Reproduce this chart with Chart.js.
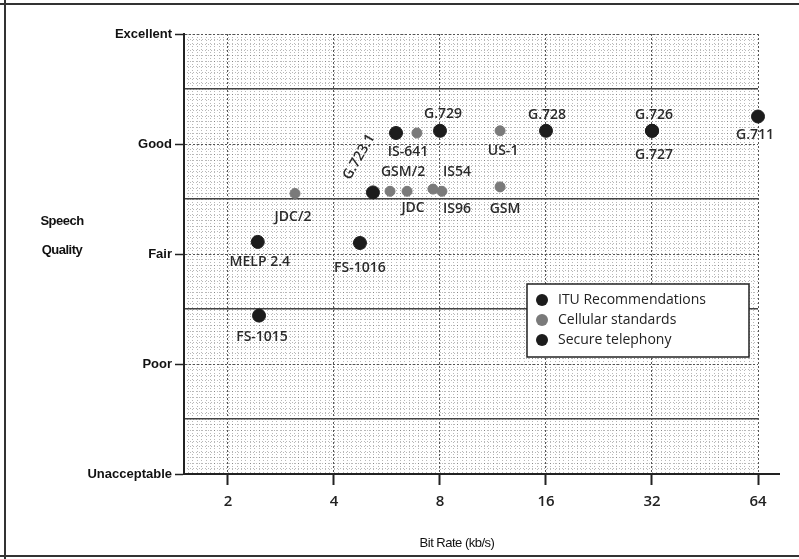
<!DOCTYPE html>
<html>
<head>
<meta charset="utf-8">
<script src="https://cdn.jsdelivr.net/npm/chart.js@4/dist/chart.umd.min.js"></script>
<style>
  html, body { margin: 0; padding: 0; background: #fff; }
  #wrap { width: 799px; height: 559px; position: relative; }
</style>
</head>
<body>
<div id="wrap"><canvas id="grafico"></canvas></div>
<script>
// ITU recommendations
const nomesITU = ['G.711', 'G.726', 'G.727', 'G.728', 'G.729', 'G.723.1', 'G.723.1'];
const taxaITU = [64, 32, 32, 16, 8, 6.0, 5.16];
const qualidadeITU = [3.25, 3.12, 3.12, 3.12, 3.12, 3.1, 2.56];

// cellular standards
const nomesCelular = ['IS-641', 'US-1', 'GSM', 'IS54', 'IS96', 'JDC', 'GSM/2', 'JDC/2'];
const taxaCelular = [6.88, 11.85, 11.85, 7.64, 8.1, 6.45, 5.77, 3.1];
const qualidadeCelular = [3.1, 3.12, 2.61, 2.59, 2.57, 2.57, 2.57, 2.55];

// secure telephony
const nomesSeguro = ['MELP 2.4', 'FS-1016', 'FS-1015'];
const taxaSeguro = [2.43, 4.74, 2.45];
const qualidadeSeguro = [2.11, 2.1, 1.44];

const ticksTaxa = [2, 4, 8, 16, 32, 64];
const rotulosQualidade = ['Unacceptable', 'Poor', 'Fair', 'Good', 'Excellent'];

// where each point label sits relative to its marker: [dx, dy, rotation in degrees]
const posRotulos = [
    [[-3, 19, 0], [2, -16, 0], [2, 24, 0], [1, -16, 0], [3, -17, 0], [-37, 24, -60], null],
    [[-9, 19, 0], [3, 20, 0], [5, 22, 0], [24, -17, 0], [15, 18, 0], [6, 17, 0], [13, -19, 0], [-2, 24, 0]],
    [[2, 20, 0], [0, 25, 0], [3, 21, 0]]
];

function pontos(taxas, qualidades) {
    return taxas.map((t, i) => ({ x: t, y: qualidades[i] }));
}

const fonteRotulo = '600 14px "Open Sans"';

const pluginRotulos = {
    id: 'rotulos',
    beforeDraw(chart) {
        const ctx = chart.ctx;
        ctx.save();
        ctx.strokeStyle = '#333';
        ctx.lineWidth = 2;
        ctx.beginPath();
        ctx.moveTo(0, 4); ctx.lineTo(799, 4);
        ctx.moveTo(5, 0); ctx.lineTo(5, 559);
        ctx.moveTo(0, 556); ctx.lineTo(799, 556);
        ctx.stroke();
        ctx.restore();
    },
    afterDraw(chart) {
        const ctx = chart.ctx;
        const area = chart.chartArea;
        ctx.save();

        // x axis line runs a little past the last tick
        ctx.strokeStyle = '#222';
        ctx.lineWidth = 2;
        ctx.beginPath();
        ctx.moveTo(area.right, area.bottom);
        ctx.lineTo(area.right + 22, area.bottom);
        ctx.stroke();

        // point labels
        ctx.fillStyle = '#2a2a2a';
        ctx.font = fonteRotulo;
        ctx.textAlign = 'center';
        ctx.textBaseline = 'middle';
        const nomes = [nomesITU, nomesCelular, nomesSeguro];
        chart.data.datasets.forEach((ds, d) => {
            const meta = chart.getDatasetMeta(d);
            meta.data.forEach((el, i) => {
                const p = posRotulos[d][i];
                if (!p) return;
                ctx.save();
                ctx.translate(el.x + p[0], el.y + p[1]);
                ctx.rotate(p[2] * Math.PI / 180);
                ctx.fillText(nomes[d][i], 0, 0);
                ctx.restore();
            });
        });

        // axis titles
        ctx.fillStyle = '#111';
        ctx.font = 'bold 13px "Liberation Sans"';
        ctx.letterSpacing = '-0.5px';
        ctx.fillText('Speech', 62, 221);
        ctx.fillText('Quality', 62, 250);
        ctx.font = '13px "Liberation Sans"';
        ctx.fillText('Bit Rate (kb/s)', 457, 543);
        ctx.letterSpacing = '0px';

        // legend box
        const lx = 527, ly = 284, lw = 222, lh = 73;
        ctx.fillStyle = '#fff';
        ctx.fillRect(lx, ly, lw, lh);
        ctx.strokeStyle = '#222';
        ctx.lineWidth = 1.5;
        ctx.strokeRect(lx, ly, lw, lh);
        ctx.font = '500 14px "Open Sans"';
        ctx.textAlign = 'left';
        chart.data.datasets.forEach((ds, d) => {
            const y = ly + 16 + d * 20;
            ctx.fillStyle = ds.backgroundColor;
            ctx.beginPath();
            ctx.arc(lx + 15, y, 6, 0, Math.PI * 2);
            ctx.fill();
            ctx.fillStyle = '#222';
            ctx.fillText(ds.label, lx + 31, y);
        });
        ctx.restore();
    }
};

function grade(cor, espessura, tracejado, z) {
    return {
        grid: { color: cor, lineWidth: espessura, drawTicks: false, z: z },
        border: { display: false, dash: tracejado },
        ticks: { display: false }
    };
}

const minTaxa = 1.5, maxTaxa = 64;

const ctx = document.getElementById('grafico').getContext('2d');
const grafico = new Chart(ctx, {
    type: 'scatter',
    data: {
        datasets: [
            {
                label: 'ITU Recommendations',
                data: pontos(taxaITU, qualidadeITU),
                backgroundColor: '#1c1c1c',
                borderColor: '#1c1c1c',
                pointRadius: 6.5,
                clip: false
            },
            {
                label: 'Cellular standards',
                data: pontos(taxaCelular, qualidadeCelular),
                backgroundColor: '#7a7a7a',
                borderColor: '#7a7a7a',
                pointRadius: 5,
                clip: false
            },
            {
                label: 'Secure telephony',
                data: pontos(taxaSeguro, qualidadeSeguro),
                backgroundColor: '#1c1c1c',
                borderColor: '#1c1c1c',
                pointRadius: 6.5,
                clip: false
            }
        ]
    },
    options: {
        responsive: true,
        maintainAspectRatio: false,
        animation: false,
        layout: { padding: { left: 0, right: 41, top: 34, bottom: 0 } },
        plugins: {
            legend: { display: false },
            tooltip: { enabled: false }
        },
        scales: {
            x: {
                type: 'logarithmic',
                min: minTaxa,
                max: maxTaxa,
                afterBuildTicks: s => { s.ticks = ticksTaxa.map(v => ({ value: v })); },
                afterFit: s => { s.height = 85; },
                grid: {
                    color: '#555',
                    lineWidth: 1,
                    drawTicks: true,
                    tickLength: 11,
                    tickColor: '#222',
                    tickWidth: 2,
                    tickBorderDash: [],
                    z: -1
                },
                border: { display: true, color: '#222', width: 2, dash: [2, 2] },
                ticks: {
                    color: '#222',
                    font: { family: 'Open Sans', size: 15, weight: '600' },
                    padding: 8,
                    autoSkip: false,
                    maxRotation: 0,
                    callback: v => String(v)
                }
            },
            xFina: Object.assign(grade('rgba(0,0,0,0.28)', 1, [1, 2], -3), {
                type: 'logarithmic',
                position: 'bottom',
                min: minTaxa,
                max: maxTaxa,
                afterBuildTicks: s => {
                    const t = [];
                    for (let k = 0; k <= 130; k++) {
                        const v = minTaxa * Math.pow(2, k / 24);
                        if (v <= maxTaxa) t.push({ value: v });
                    }
                    s.ticks = t;
                },
                afterFit: s => { s.height = 0; }
            }),
            y: {
                min: 0,
                max: 4,
                afterBuildTicks: s => { s.ticks = rotulosQualidade.map((r, i) => ({ value: i })); },
                afterFit: s => { s.width = 184; },
                grid: {
                    color: '#555',
                    lineWidth: 1,
                    drawTicks: true,
                    tickLength: 9,
                    tickColor: '#222',
                    tickWidth: 1.5,
                    tickBorderDash: [],
                    z: -1
                },
                border: { display: true, color: '#222', width: 2, dash: [2, 2] },
                ticks: {
                    color: '#111',
                    font: { family: 'Liberation Sans', size: 13, weight: 'bold' },
                    padding: 3,
                    autoSkip: false,
                    callback: v => rotulosQualidade[v]
                }
            },
            yMeio: Object.assign(grade('#444', 1.5, [], -2), {
                position: 'left',
                min: 0,
                max: 4,
                afterBuildTicks: s => { s.ticks = [0.5, 1.5, 2.5, 3.5].map(v => ({ value: v })); },
                afterFit: s => { s.width = 0; }
            }),
            yFina: Object.assign(grade('rgba(0,0,0,0.28)', 1, [1, 2], -3), {
                position: 'left',
                min: 0,
                max: 4,
                afterBuildTicks: s => {
                    const t = [];
                    for (let k = 0; k <= 80; k++) t.push({ value: k * 0.05 });
                    s.ticks = t;
                },
                afterFit: s => { s.width = 0; }
            })
        }
    },
    plugins: [pluginRotulos]
});
</script>
</body>
</html>
